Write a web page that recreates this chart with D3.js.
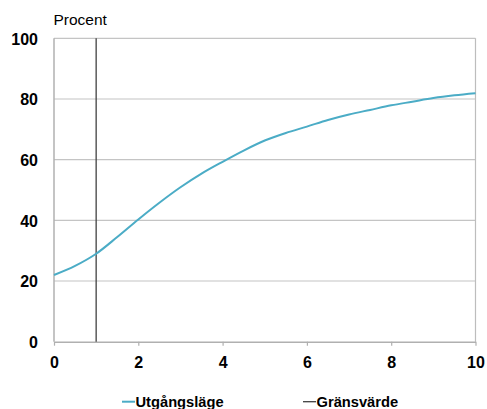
<!DOCTYPE html>
<html><head><meta charset="utf-8">
<script src="https://cdn.jsdelivr.net/npm/d3@7"></script>
<style>body{margin:0;background:#fff}svg{display:block}</style>
</head><body>
<svg id="c" width="487" height="409"></svg>
<script>
const xs = [0,0.5,1,1.5,2,2.5,3,3.5,4,4.5,5,5.5,6,6.5,7,7.5,8,8.5,9,9.5,10];
const utgang = [22,25,29,34.5,40.3,45.8,50.9,55.4,59.3,63,66.3,68.8,70.9,73.1,74.9,76.4,77.9,79.1,80.3,81.2,81.9];
const gransvarde = 1;
const xTicks = [0,2,4,6,8,10];
const yTicks = [0,20,40,60,80,100];
const seriesNames = ["Utgångsläge","Gränsvärde"];
const yTitle = "Procent";

const svg = d3.select("#c");
const L=54, R=475.5, T=38.3, B=341.7;
const x = d3.scaleLinear().domain([0,10]).range([L,R]);
const y = d3.scaleLinear().domain([0,100]).range([B,T]);
const font = "Liberation Sans, Arial, sans-serif";

// gridlines
svg.append("g").selectAll("line").data(yTicks.filter(d=>d>0)).join("line")
  .attr("x1",L).attr("x2",R).attr("y1",d=>y(d)).attr("y2",d=>y(d))
  .attr("stroke","#c4c4c4").attr("stroke-width",1.2);
// right border
svg.append("line").attr("x1",R).attr("x2",R).attr("y1",T).attr("y2",B)
  .attr("stroke","#bdbdbd").attr("stroke-width",1.2);
// left axis
svg.append("line").attr("x1",L).attr("x2",L).attr("y1",T).attr("y2",B)
  .attr("stroke","#b0b0b0").attr("stroke-width",1.5);

// x axis
const xAxis = d3.axisBottom(x).tickValues(xTicks).tickSize(4).tickSizeOuter(0).tickFormat(d3.format("d"));
const gx = svg.append("g").attr("transform",`translate(0,${B})`).call(xAxis);
gx.select(".domain").attr("stroke","#b0b0b0").attr("stroke-width",1.5);
gx.selectAll(".tick line").attr("stroke","#b0b0b0").attr("stroke-width",1.2);
gx.selectAll(".tick text").attr("y",26.5).attr("dy",null)
  .attr("font-family",font).attr("font-size",16).attr("font-weight","bold").attr("fill","#000");

// y axis labels
const yAxis = d3.axisLeft(y).tickValues(yTicks).tickSize(0).tickPadding(16).tickFormat(d3.format("d"));
const gy = svg.append("g").attr("transform",`translate(${L},0)`).call(yAxis);
gy.select(".domain").remove();
gy.selectAll(".tick text").attr("dy","0.36em")
  .attr("font-family",font).attr("font-size",16).attr("font-weight","bold").attr("fill","#000");

svg.append("text").attr("x",53.5).attr("y",25).text(yTitle)
  .attr("font-family",font).attr("font-size",15.5).attr("fill","#000");

// threshold line
svg.append("line").attr("x1",x(gransvarde)).attr("x2",x(gransvarde)).attr("y1",T).attr("y2",B)
  .attr("stroke","#404040").attr("stroke-width",1.3);

// curve
const line = d3.line().x((d,i)=>x(xs[i])).y(d=>y(d)).curve(d3.curveMonotoneX);
svg.append("path").datum(utgang).attr("d",line).attr("fill","none")
  .attr("stroke","#4bacc6").attr("stroke-width",2);

// legend
const leg = [{name:seriesNames[0],color:"#4bacc6",x:122},{name:seriesNames[1],color:"#404040",x:303}];
const lg = svg.append("g");
leg.forEach(l=>{
  lg.append("line").attr("x1",l.x).attr("x2",l.x+13).attr("y1",401.7).attr("y2",401.7)
    .attr("stroke",l.color).attr("stroke-width",l.color==="#4bacc6"?2:1.3);
  lg.append("text").attr("x",l.x+13.5).attr("y",406.5).text(l.name)
    .attr("font-family",font).attr("font-size",14.7).attr("font-weight","bold").attr("fill","#000");
});
</script>
</body></html>
